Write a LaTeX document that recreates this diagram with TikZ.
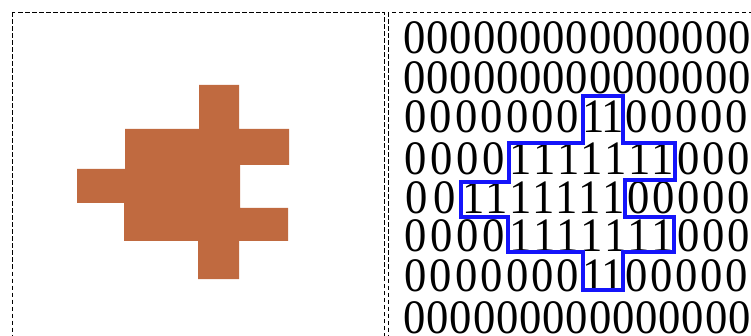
\documentclass[tikz,border=0pt]{standalone}
\usepackage{fontspec}
\setmainfont{Liberation Serif}
\newfontfamily\digitfont[FakeStretch=0.93]{Liberation Serif}
\definecolor{orangebrown}{RGB}{192,106,64}
\definecolor{outlineblue}{RGB}{20,20,250}
\newcommand\cells[3]{\foreach \k in {1,...,#1}{\makebox[#2pt]{#3}}}
\begin{document}
\begin{tikzpicture}[x=1pt,y=-1pt,
  frame/.style={draw=black, line width=0.9pt, dash pattern=on 4.5pt off 2.5pt},
  shapefill/.style={fill=orangebrown, draw=none},
  outline/.style={draw=outlineblue, line width=4pt, line join=miter},
  digitrow/.style={anchor=base west, inner sep=0pt, outer sep=0pt, font=\digitfont\fontsize{48}{48}\selectfont}]
\useasboundingbox (0,0) rectangle (751,336);
\clip (0,0) rectangle (751,336);
\fill[white] (0,0) rectangle (751,336);
% frames
\draw[frame] (12.5,12.5) rectangle (384,360);
\draw[frame] (388,12.5) rectangle (790,360);
% orange shape
\fill[shapefill] (199,85) -- (239,85) -- (239,129) -- (289,129) -- (289,165) -- (240,165) -- (240,208) -- (288,208) -- (288,241) -- (239,241) -- (239,279) -- (198,279) -- (198,241) -- (124,241) -- (124,203) -- (77,203) -- (77,169) -- (125,169) -- (125,129) -- (199,129) -- cycle;
% digit rows
\node[digitrow] (r1) at (403,54) {\cells{16}{23.2}{0}};
\node[digitrow] (r2) at (403,94) {\cells{16}{23.2}{0}};
\node[digitrow] (r3a) at (403,133) {\cells{7}{25.4}{0}};
\node[digitrow] (r3b) at (584,133) {\cells{2}{19}{1}};
\node[digitrow] (r3c) at (624,133) {\cells{6}{25}{0}};
\node[digitrow] (r4a) at (403,175) {\cells{4}{26}{0}};
\node[digitrow] (r4b) at (509,175) {\cells{7}{23.7}{1}};
\node[digitrow] (r4c) at (676,175) {\cells{4}{25}{0}};
\node[digitrow] (r5a) at (403,214) {\cells{2}{28}{0}};
\node[digitrow] (r5b) at (462,214) {\cells{7}{23.3}{1}};
\node[digitrow] (r5c) at (626,214) {\cells{6}{25}{0}};
\node[digitrow] (r6a) at (403,252) {\cells{4}{26}{0}};
\node[digitrow] (r6b) at (509,252) {\cells{7}{23.6}{1}};
\node[digitrow] (r6c) at (676,252) {\cells{4}{25}{0}};
\node[digitrow] (r7a) at (403,291) {\cells{7}{25.4}{0}};
\node[digitrow] (r7b) at (584,291) {\cells{2}{19}{1}};
\node[digitrow] (r7c) at (624,291) {\cells{6}{25}{0}};
\node[digitrow] (r8) at (403,333) {\cells{16}{23.2}{0}};
% blue outline
\draw[outline] (583,96) -- (623,96) -- (623,143) -- (675,143) -- (675,180) -- (625,180) -- (625,217) -- (674,217) -- (674,252) -- (623,252) -- (623,290) -- (583,290) -- (583,252) -- (508,252) -- (508,217) -- (461,217) -- (461,182) -- (509,182) -- (509,143) -- (583,143) -- cycle;
\end{tikzpicture}
\end{document}
